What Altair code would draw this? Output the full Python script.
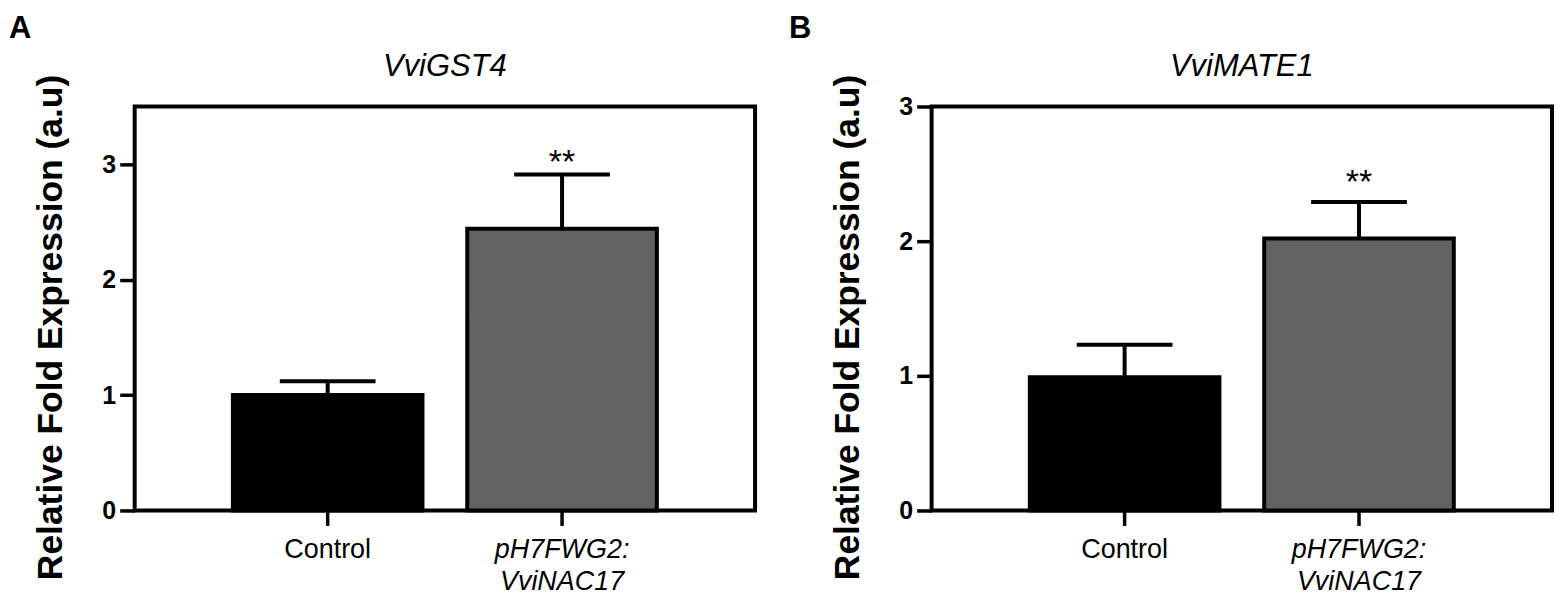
import altair as alt
import pandas as pd

# ---- data ----
categories = ["Control", "pH7FWG2: VviNAC17"]
bar_colors = ["#000000", "#626262"]
star_labels = ["", "**"]

gst4_mean = [1.00, 2.44]
gst4_sd = [0.12, 0.47]
gst4_star_y = [0.0, 2.92]

mate1_mean = [0.99, 2.02]
mate1_sd = [0.24, 0.27]
mate1_star_y = [0.0, 2.36]

y_ticks = [0, 1, 2, 3]
FONT = "Liberation Sans"


def panel(mean, sd, star_y, gene, ymax):
    df = pd.DataFrame({
        "group": categories,
        "mean": mean,
        "upper": [m + s for m, s in zip(mean, sd)],
        "star": star_labels,
        "star_y": star_y,
    })
    x = alt.X(
        "group:N",
        sort=categories,
        scale=alt.Scale(paddingInner=0.191, paddingOuter=0.419),
        axis=alt.Axis(
            title=None,
            labelAngle=0,
            domain=False,
            ticks=True,
            tickSize=15,
            tickWidth=3.5,
            tickColor="black",
            labelFont=FONT,
            labelFontSize=27,
            labelColor="black",
            labelPadding=11,
            labelLineHeight=32,
            labelExpr="split(datum.label, ' ')",
            labelFontStyle={"expr": "datum.value == 'Control' ? 'normal' : 'italic'"},
        ),
    )
    yscale = alt.Scale(domain=[0, ymax], nice=False, zero=True)
    yaxis = alt.Axis(
        values=y_ticks,
        format="d",
        grid=False,
        domain=False,
        tickSize=15,
        tickWidth=3.5,
        tickColor="black",
        labelFont=FONT,
        labelFontSize=25,
        labelFontWeight="bold",
        labelColor="black",
        labelPadding=4,
        title="Relative Fold Expression (a.u)",
        titleFont=FONT,
        titleFontSize=35.5,
        titleFontWeight="bold",
        titleColor="black",
        titleAngle=-90,
        titleAlign="center",
        titleBaseline="alphabetic",
        titleX=-73,
        titleY=221,
    )
    base = alt.Chart(df)
    bars = base.mark_bar(stroke="black", strokeWidth=4).encode(
        x=x,
        y=alt.Y("mean:Q", scale=yscale, axis=yaxis),
        color=alt.Color("group:N", scale=alt.Scale(domain=categories, range=bar_colors), legend=None),
    )
    stem = base.mark_rule(color="black", strokeWidth=4).encode(
        x=alt.X("group:N", sort=categories),
        y="mean:Q",
        y2="upper:Q",
    )
    cap = base.mark_tick(color="black", thickness=4, size=96, opacity=1).encode(
        x=alt.X("group:N", sort=categories),
        y="upper:Q",
    )
    stars = base.mark_text(font=FONT, fontSize=34, baseline="alphabetic", color="black").encode(
        x=alt.X("group:N", sort=categories),
        y="star_y:Q",
        text="star:N",
    )
    return alt.layer(bars, stem, cap, stars).properties(
        width=622,
        height=405,
        title=alt.TitleParams(
            gene, font=FONT, fontSize=31, fontStyle="italic", fontWeight="normal",
            color="black", anchor="middle", frame="group", offset=-9,
        ),
    )


pA = panel(gst4_mean, gst4_sd, gst4_star_y, "VviGST4", 3.5)
pB = panel(mate1_mean, mate1_sd, mate1_star_y, "VviMATE1", 3.0)

A = alt.hconcat(pA, title=alt.TitleParams("A", font=FONT, fontSize=31, fontWeight="bold",
                                          color="black", anchor="start", dx=-23, offset=4))
B = alt.hconcat(pB, title=alt.TitleParams("B", font=FONT, fontSize=31, fontWeight="bold",
                                          color="black", anchor="start", dx=-40, offset=4))

chart = alt.hconcat(
    A, B, spacing=31, padding={"top": 4, "left": 0, "right": 0, "bottom": 0}
).configure(
    background="white"
).configure_view(
    stroke="black", strokeWidth=4
)

chart.save("out.html", embed_options={"renderer": "svg", "actions": False})
